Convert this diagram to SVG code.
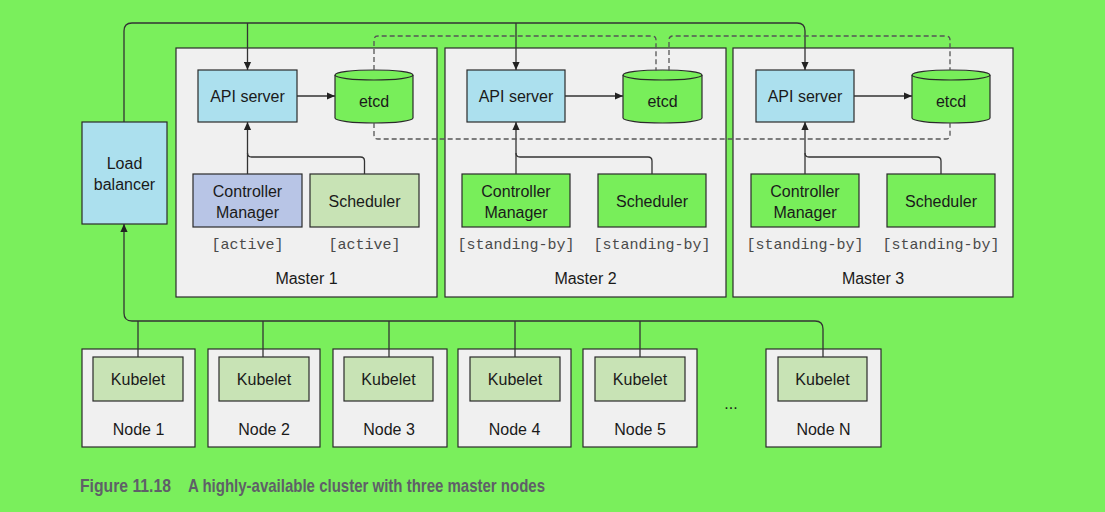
<svg xmlns="http://www.w3.org/2000/svg" width="1105" height="512" viewBox="0 0 1105 512">
  <defs>
    <marker id="arrow" viewBox="0 0 10 10" refX="10" refY="5" markerWidth="8" markerHeight="8" markerUnits="userSpaceOnUse" orient="auto">
      <path d="M0,0.5 L10,5 L0,9.5 Z" fill="#222"/>
    </marker>
    <style>
      .box { stroke: #2a2a2a; stroke-width: 1.2; }
      .master { fill: #f0f0f0; }
      .api { fill: #ace0ee; }
      .etcd { fill: #78ee5a; }
      .standby { fill: #78ee5a; }
      .cm-active { fill: #b8c5e6; }
      .light { fill: #c8e3b5; }
      .t { font-family: "Liberation Sans", Arial, sans-serif; font-size: 16px; fill: #1a1a1a; text-anchor: middle; }
      .mono { font-family: "Liberation Mono", "Courier New", monospace; font-size: 15px; fill: #4a4a4a; text-anchor: middle; }
      .wire { fill: none; stroke: #333; stroke-width: 1.3; }
      .dash { fill: none; stroke: #555; stroke-width: 1.3; stroke-dasharray: 5 3; }
      .caption { font-family: "Liberation Sans", Arial, sans-serif; font-weight: bold; font-size: 19px; fill: #5f5f68; }
    </style>
  </defs>

  <rect width="1105" height="512" fill="#7aef5c"/>

  <!-- Masters -->
  <g id="master1">
    <rect class="box master" x="176" y="48" width="261" height="249"/>
    <text class="t" x="306.5" y="283.5">Master 1</text>
  </g>
  <g id="master2">
    <rect class="box master" x="445" y="48" width="281" height="249"/>
    <text class="t" x="585.5" y="283.5">Master 2</text>
  </g>
  <g id="master3">
    <rect class="box master" x="733" y="48" width="280" height="249"/>
    <text class="t" x="873" y="283.5">Master 3</text>
  </g>

  <!-- Load balancer -->
  <g id="load-balancer">
    <rect class="box api" x="82" y="122" width="85" height="102"/>
    <text class="t" x="124.5" y="168.5">Load</text>
    <text class="t" x="124.5" y="189.5">balancer</text>
  </g>

  <!-- Master 1 components -->
  <g id="api1">
    <rect class="box api" x="198" y="70" width="99" height="52"/>
    <text class="t" x="247.5" y="102">API server</text>
  </g>
  <g id="etcd1">
    <path class="box etcd" d="M335,75 A39,5 0 0 1 413,75 V118 A39,5 0 0 1 335,118 Z"/>
    <path class="box" fill="none" d="M335,75 A39,5 0 0 0 413,75"/>
    <text class="t" x="374" y="106.5">etcd</text>
  </g>
  <g id="cm1">
    <rect class="box cm-active" x="193" y="174" width="109" height="53"/>
    <text class="t" x="247.5" y="196.5">Controller</text>
    <text class="t" x="247.5" y="217.5">Manager</text>
    <text class="mono" x="247.5" y="249">[active]</text>
  </g>
  <g id="sched1">
    <rect class="box light" x="310" y="174" width="109" height="53"/>
    <text class="t" x="364.5" y="206.5">Scheduler</text>
    <text class="mono" x="364.5" y="249">[active]</text>
  </g>

  <!-- Master 2 components -->
  <g id="api2">
    <rect class="box api" x="467" y="70" width="98" height="52"/>
    <text class="t" x="516" y="102">API server</text>
  </g>
  <g id="etcd2">
    <path class="box etcd" d="M623,75 A39.5,5 0 0 1 702,75 V118 A39.5,5 0 0 1 623,118 Z"/>
    <path class="box" fill="none" d="M623,75 A39.5,5 0 0 0 702,75"/>
    <text class="t" x="662.5" y="106.5">etcd</text>
  </g>
  <g id="cm2">
    <rect class="box standby" x="462" y="174" width="108" height="53"/>
    <text class="t" x="516" y="196.5">Controller</text>
    <text class="t" x="516" y="217.5">Manager</text>
    <text class="mono" x="516" y="249">[standing-by]</text>
  </g>
  <g id="sched2">
    <rect class="box standby" x="598" y="174" width="108" height="53"/>
    <text class="t" x="652" y="206.5">Scheduler</text>
    <text class="mono" x="652" y="249">[standing-by]</text>
  </g>

  <!-- Master 3 components -->
  <g id="api3">
    <rect class="box api" x="756" y="70" width="98" height="52"/>
    <text class="t" x="805" y="102">API server</text>
  </g>
  <g id="etcd3">
    <path class="box etcd" d="M912,75 A39,5 0 0 1 990,75 V118 A39,5 0 0 1 912,118 Z"/>
    <path class="box" fill="none" d="M912,75 A39,5 0 0 0 990,75"/>
    <text class="t" x="951" y="106.5">etcd</text>
  </g>
  <g id="cm3">
    <rect class="box standby" x="751" y="174" width="108" height="53"/>
    <text class="t" x="805" y="196.5">Controller</text>
    <text class="t" x="805" y="217.5">Manager</text>
    <text class="mono" x="805" y="249">[standing-by]</text>
  </g>
  <g id="sched3">
    <rect class="box standby" x="887" y="174" width="108" height="53"/>
    <text class="t" x="941" y="206.5">Scheduler</text>
    <text class="mono" x="941" y="249">[standing-by]</text>
  </g>

  <!-- Worker nodes -->
  <g id="node1">
    <rect class="box master" x="82" y="349" width="113" height="98"/>
    <rect class="box light" x="93" y="357" width="90" height="44"/>
    <text class="t" x="138" y="384.5">Kubelet</text>
    <text class="t" x="138.5" y="434.5">Node 1</text>
  </g>
  <g id="node2">
    <rect class="box master" x="208" y="349" width="112" height="98"/>
    <rect class="box light" x="219" y="357" width="90" height="44"/>
    <text class="t" x="264" y="384.5">Kubelet</text>
    <text class="t" x="264" y="434.5">Node 2</text>
  </g>
  <g id="node3">
    <rect class="box master" x="333" y="349" width="114" height="98"/>
    <rect class="box light" x="344" y="357" width="89" height="44"/>
    <text class="t" x="388.5" y="384.5">Kubelet</text>
    <text class="t" x="389" y="434.5">Node 3</text>
  </g>
  <g id="node4">
    <rect class="box master" x="458" y="349" width="113" height="98"/>
    <rect class="box light" x="470" y="357" width="90" height="44"/>
    <text class="t" x="515" y="384.5">Kubelet</text>
    <text class="t" x="514.5" y="434.5">Node 4</text>
  </g>
  <g id="node5">
    <rect class="box master" x="583" y="349" width="114" height="98"/>
    <rect class="box light" x="595" y="357" width="90" height="44"/>
    <text class="t" x="640" y="384.5">Kubelet</text>
    <text class="t" x="640" y="434.5">Node 5</text>
  </g>
  <g id="ellipsis">
    <text class="t" x="731" y="409">...</text>
  </g>
  <g id="nodeN">
    <rect class="box master" x="766" y="349" width="115" height="98"/>
    <rect class="box light" x="778" y="357" width="89" height="44"/>
    <text class="t" x="822.5" y="384.5">Kubelet</text>
    <text class="t" x="823.5" y="434.5">Node N</text>
  </g>

  <!-- Connectors -->
  <g id="connectors">
    <!-- load balancer to API servers -->
    <path class="wire" d="M124,122 V31 Q124,23 132,23 H797 Q805,23 805,31 V70" marker-end="url(#arrow)"/>
    <path class="wire" d="M247.5,23 V70" marker-end="url(#arrow)"/>
    <path class="wire" d="M516,23 V70" marker-end="url(#arrow)"/>
    <!-- kubelets to load balancer -->
    <path class="wire" d="M823,357 V329 Q823,321 815,321 H132 Q124,321 124,313 V224" marker-end="url(#arrow)"/>
    <path class="wire" d="M138,321 V357"/>
    <path class="wire" d="M263,321 V357"/>
    <path class="wire" d="M389,321 V357"/>
    <path class="wire" d="M515,321 V357"/>
    <path class="wire" d="M640,321 V357"/>
    <!-- API server to etcd -->
    <path class="wire" d="M297,96 H335" marker-end="url(#arrow)"/>
    <path class="wire" d="M565,96 H623" marker-end="url(#arrow)"/>
    <path class="wire" d="M854,96 H912" marker-end="url(#arrow)"/>
    <!-- controller manager / scheduler to API server -->
    <path class="wire" d="M247.5,174 V122" marker-end="url(#arrow)"/>
    <path class="wire" d="M364.5,174 V161 Q364.5,157 360.5,157 H251.5 Q247.5,157 247.5,153"/>
    <path class="wire" d="M516,174 V122" marker-end="url(#arrow)"/>
    <path class="wire" d="M652,174 V161 Q652,157 648,157 H520 Q516,157 516,153"/>
    <path class="wire" d="M805,174 V122" marker-end="url(#arrow)"/>
    <path class="wire" d="M941,174 V161 Q941,157 937,157 H809 Q805,157 805,153"/>
    <!-- etcd peer links -->
    <path class="dash" d="M374,70 V40 Q374,36 378,36 H652 Q656,36 656,40 V71"/>
    <path class="dash" d="M669,71 V40 Q669,36 673,36 H946 Q950,36 950,40 V70"/>
    <path class="dash" d="M374,123 V135 Q374,139 378,139 H946 Q950,139 950,135 V123"/>
  </g>

  <!-- Caption -->
  <text class="caption" x="80" y="492" textLength="91" lengthAdjust="spacingAndGlyphs">Figure 11.18</text>
  <text class="caption" x="188" y="492" textLength="357" lengthAdjust="spacingAndGlyphs">A highly-available cluster with three master nodes</text>
</svg>
